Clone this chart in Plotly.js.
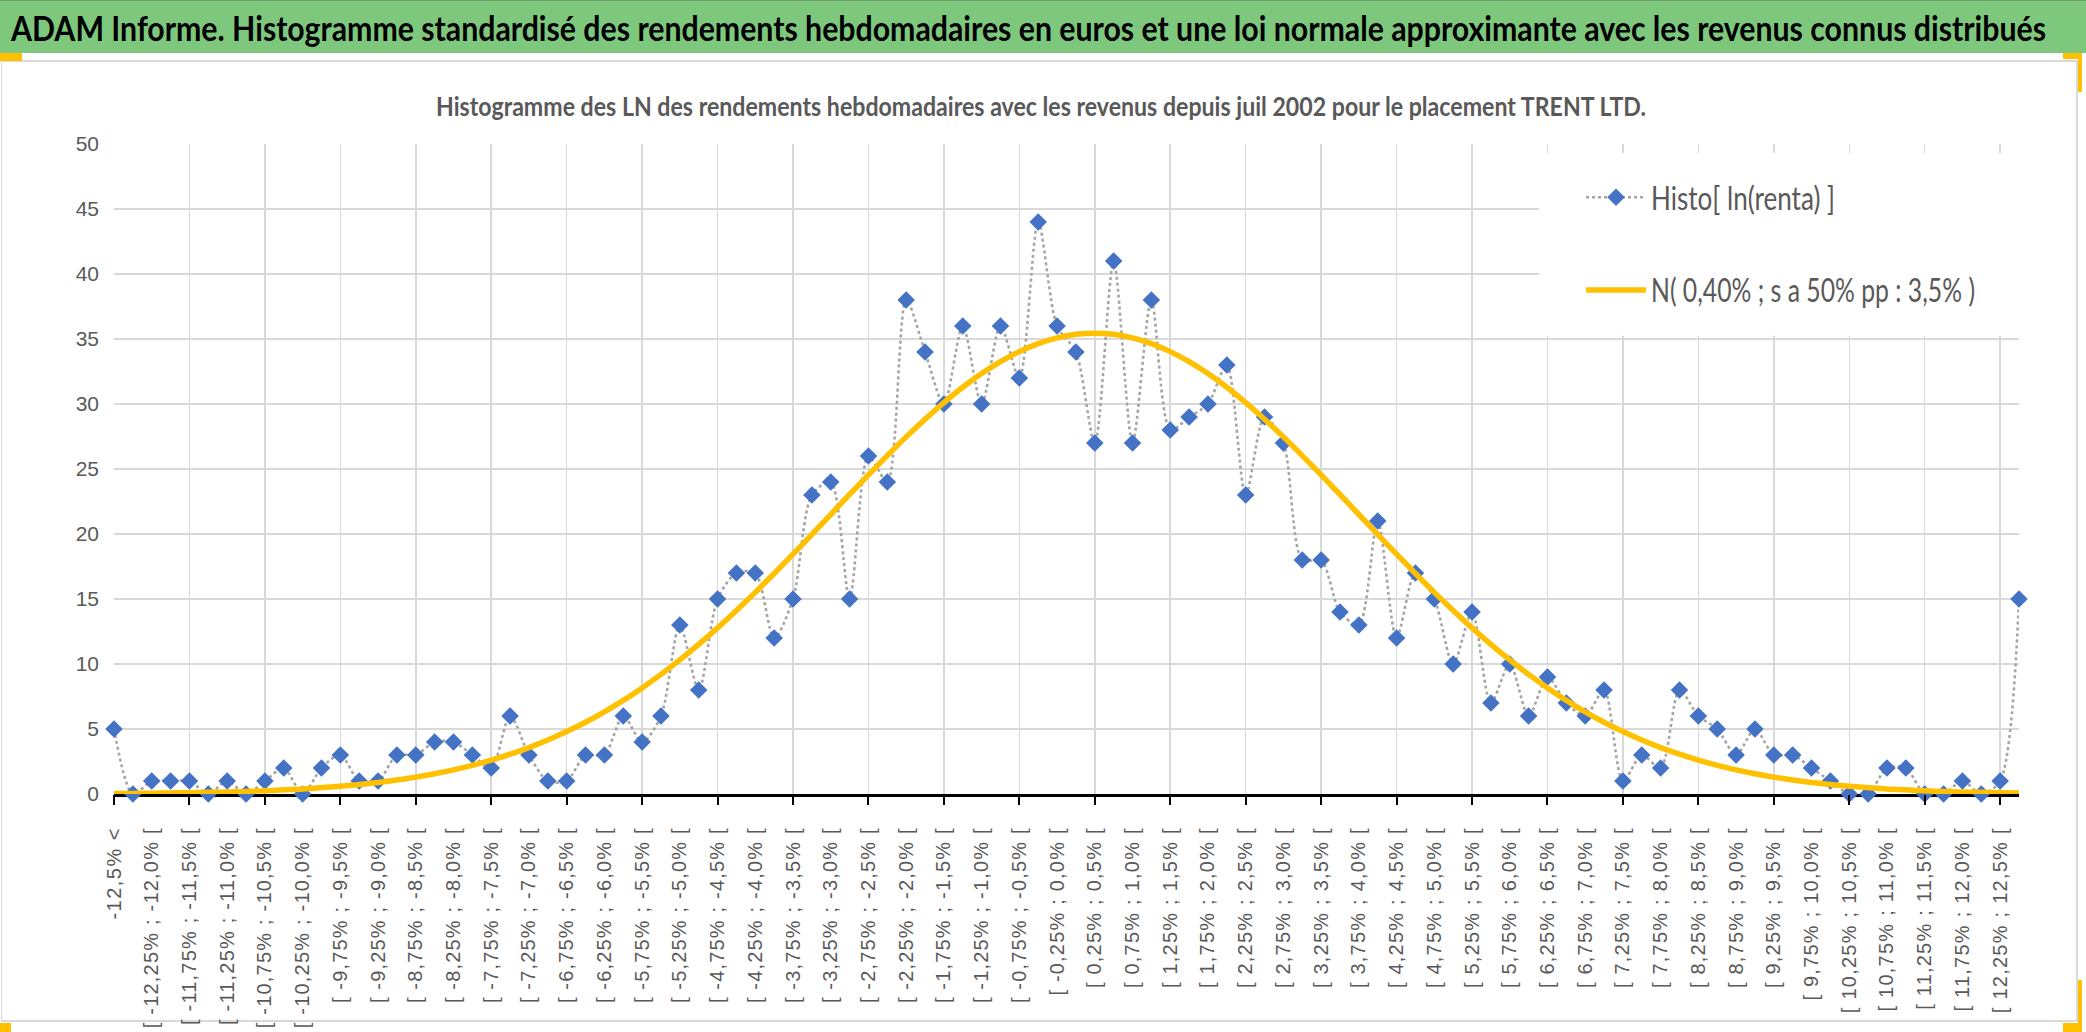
<!DOCTYPE html>
<html>
<head>
<meta charset="utf-8">
<script src="https://cdn.plot.ly/plotly-3.0.1.min.js"></script>
<style>
  html, body { margin: 0; padding: 0; background: #ffffff; width: 2086px; height: 1032px; overflow: hidden; }
  #frame { position: absolute; left: 1px; top: 60px; width: 2077px; height: 962px; border: 2px solid #d9d9d9; border-left-width: 1px; box-sizing: border-box; }
  #banner { position: absolute; left: 0; top: 0; width: 2086px; height: 53px; background: #7ec87e; border-top: 1px solid #6a9f6a; box-sizing: border-box; z-index: 3; overflow: hidden; }
  #bannerText { position: absolute; left: 11px; top: 0; line-height: 52px; white-space: nowrap; transform-origin: 0 50%;
            font-family: Lato, "Liberation Sans", sans-serif; font-weight: bold; font-size: 35px; color: #000; }
  .h { position: absolute; background: #ffc000; z-index: 4; }
  #chart { position: absolute; left: 0; top: 0; width: 2086px; height: 1032px; z-index: 2; }
</style>
</head>
<body>
<div id="frame"></div>
<div id="banner"><span id="bannerText">ADAM Informe. Histogramme standardisé des rendements hebdomadaires en euros et une loi normale approximante avec les revenus connus distribués</span></div>
<div class="h" style="left:0;top:53px;width:22px;height:8px"></div>
<div class="h" style="left:2063px;top:53px;width:19px;height:6px"></div>
<div class="h" style="left:2078px;top:53px;width:4px;height:39px"></div>
<div class="h" style="left:2063px;top:1023px;width:19px;height:9px"></div>
<div class="h" style="left:2078px;top:980px;width:4px;height:52px"></div>
<div class="h" style="left:0;top:1023px;width:11px;height:9px"></div>
<div id="chart"></div>
<script>
// Bin labels (categories)
const binLabels = [
"-12,5% <",
"[ -12,5% ; -12,25% [","[ -12,25% ; -12,0% [","[ -12,0% ; -11,75% [","[ -11,75% ; -11,5% [",
"[ -11,5% ; -11,25% [","[ -11,25% ; -11,0% [","[ -11,0% ; -10,75% [","[ -10,75% ; -10,5% [",
"[ -10,5% ; -10,25% [","[ -10,25% ; -10,0% [","[ -10,0% ; -9,75% [","[ -9,75% ; -9,5% [",
"[ -9,5% ; -9,25% [","[ -9,25% ; -9,0% [","[ -9,0% ; -8,75% [","[ -8,75% ; -8,5% [",
"[ -8,5% ; -8,25% [","[ -8,25% ; -8,0% [","[ -8,0% ; -7,75% [","[ -7,75% ; -7,5% [",
"[ -7,5% ; -7,25% [","[ -7,25% ; -7,0% [","[ -7,0% ; -6,75% [","[ -6,75% ; -6,5% [",
"[ -6,5% ; -6,25% [","[ -6,25% ; -6,0% [","[ -6,0% ; -5,75% [","[ -5,75% ; -5,5% [",
"[ -5,5% ; -5,25% [","[ -5,25% ; -5,0% [","[ -5,0% ; -4,75% [","[ -4,75% ; -4,5% [",
"[ -4,5% ; -4,25% [","[ -4,25% ; -4,0% [","[ -4,0% ; -3,75% [","[ -3,75% ; -3,5% [",
"[ -3,5% ; -3,25% [","[ -3,25% ; -3,0% [","[ -3,0% ; -2,75% [","[ -2,75% ; -2,5% [",
"[ -2,5% ; -2,25% [","[ -2,25% ; -2,0% [","[ -2,0% ; -1,75% [","[ -1,75% ; -1,5% [",
"[ -1,5% ; -1,25% [","[ -1,25% ; -1,0% [","[ -1,0% ; -0,75% [","[ -0,75% ; -0,5% [",
"[ -0,5% ; -0,25% [","[ -0,25% ; 0,0% [","[ 0,0% ; 0,25% [","[ 0,25% ; 0,5% [",
"[ 0,5% ; 0,75% [","[ 0,75% ; 1,0% [","[ 1,0% ; 1,25% [","[ 1,25% ; 1,5% [",
"[ 1,5% ; 1,75% [","[ 1,75% ; 2,0% [","[ 2,0% ; 2,25% [","[ 2,25% ; 2,5% [",
"[ 2,5% ; 2,75% [","[ 2,75% ; 3,0% [","[ 3,0% ; 3,25% [","[ 3,25% ; 3,5% [",
"[ 3,5% ; 3,75% [","[ 3,75% ; 4,0% [","[ 4,0% ; 4,25% [","[ 4,25% ; 4,5% [",
"[ 4,5% ; 4,75% [","[ 4,75% ; 5,0% [","[ 5,0% ; 5,25% [","[ 5,25% ; 5,5% [",
"[ 5,5% ; 5,75% [","[ 5,75% ; 6,0% [","[ 6,0% ; 6,25% [","[ 6,25% ; 6,5% [",
"[ 6,5% ; 6,75% [","[ 6,75% ; 7,0% [","[ 7,0% ; 7,25% [","[ 7,25% ; 7,5% [",
"[ 7,5% ; 7,75% [","[ 7,75% ; 8,0% [","[ 8,0% ; 8,25% [","[ 8,25% ; 8,5% [",
"[ 8,5% ; 8,75% [","[ 8,75% ; 9,0% [","[ 9,0% ; 9,25% [","[ 9,25% ; 9,5% [",
"[ 9,5% ; 9,75% [","[ 9,75% ; 10,0% [","[ 10,0% ; 10,25% [","[ 10,25% ; 10,5% [",
"[ 10,5% ; 10,75% [","[ 10,75% ; 11,0% [","[ 11,0% ; 11,25% [","[ 11,25% ; 11,5% [",
"[ 11,5% ; 11,75% [","[ 11,75% ; 12,0% [","[ 12,0% ; 12,25% [","[ 12,25% ; 12,5% [",
"12,5% >"
];

// Observed weekly counts per bin (Histo[ ln(renta) ])
const histoCounts = [
 5, 0, 1, 1, 1, 0, 1, 0, 1, 2,
 0, 2, 3, 1, 1, 3, 3, 4, 4, 3,
 2, 6, 3, 1, 1, 3, 3, 6, 4, 6,
 13, 8, 15, 17, 17, 12, 15, 23, 24, 15,
 26, 24, 38, 34, 30, 36, 30, 36, 32, 44,
 36, 34, 27, 41, 27, 38, 28, 29, 30, 33,
 23, 29, 27, 18, 18, 14, 13, 21, 12, 17,
 15, 10, 14, 7, 10, 6, 9, 7, 6, 8,
 1, 3, 2, 8, 6, 5, 3, 5, 3, 3,
 2, 1, 0, 0, 2, 2, 0, 0, 1, 0,
 1, 15
];

// Approximating normal curve values read per bin: N( 0,40% ; s 3,5% )
const normalCurve = [
 0.035, 0.045, 0.06, 0.08, 0.10, 0.13, 0.16, 0.20, 0.25, 0.32,
 0.39, 0.49, 0.60, 0.73, 0.89, 1.08, 1.30, 1.56, 1.86, 2.20,
 2.60, 3.06, 3.57, 4.15, 4.80, 5.52, 6.32, 7.20, 8.16, 9.20,
 10.31, 11.51, 12.78, 14.12, 15.51, 16.96, 18.45, 19.97, 21.50, 23.04,
 24.55, 26.03, 27.47, 28.83, 30.11, 31.29, 32.34, 33.26, 34.03, 34.65,
 35.09, 35.36, 35.45, 35.36, 35.09, 34.65, 34.03, 33.26, 32.34, 31.29,
 30.11, 28.83, 27.47, 26.03, 24.55, 23.04, 21.50, 19.97, 18.45, 16.96,
 15.51, 14.12, 12.78, 11.51, 10.31, 9.20, 8.16, 7.20, 6.32, 5.52,
 4.80, 4.15, 3.57, 3.06, 2.60, 2.20, 1.86, 1.56, 1.30, 1.08,
 0.89, 0.73, 0.60, 0.49, 0.39, 0.32, 0.25, 0.20, 0.16, 0.13,
 0.10, 0.08
];

const seriesNames = ["Histo[ ln(renta) ]", "N( 0,40% ; s a 50% pp : 3,5% )"];
const chartTitle = "Histogramme des LN des rendements hebdomadaires avec les revenus depuis juil 2002 pour le placement TRENT LTD.";
const yTicks = [0, 5, 10, 15, 20, 25, 30, 35, 40, 45, 50];

const xIdx = binLabels.map((_, i) => i);
const labelIdx = xIdx.filter(i => i % 2 === 0);
const labelText = labelIdx.map(i => binLabels[i]);

const HUMAN = 'Lato, "Open Sans", "Liberation Sans", sans-serif';
const SANS = '"Liberation Sans", Arial, sans-serif';

const traces = [
  {
    type: 'scatter', mode: 'lines+markers', name: seriesNames[0],
    x: xIdx, y: histoCounts, xaxis: 'x', yaxis: 'y',
    legendgroup: 'a', cliponaxis: false,
    line: { color: '#a5a5a5', width: 2.6, dash: 'dot', shape: 'spline', smoothing: 0.8 },
    marker: { symbol: 'diamond', size: 13.5, color: '#4472c4', line: { width: 0 } },
    hovertemplate: '%{text}: %{y}<extra></extra>', text: binLabels
  },
  {
    type: 'scatter', mode: 'lines', name: seriesNames[1],
    x: xIdx, y: normalCurve, xaxis: 'x2', yaxis: 'y',
    legendgroup: 'b', cliponaxis: false,
    line: { color: '#ffc000', width: 5.5, shape: 'spline', smoothing: 1 },
    hoverinfo: 'skip'
  }
];

const layout = {
  width: 2086, height: 1032,
  margin: { l: 114, r: 66, t: 144, b: 238, pad: 0 },
  paper_bgcolor: 'rgba(0,0,0,0)', plot_bgcolor: 'rgba(0,0,0,0)',
  showlegend: true,
  title: {
    text: chartTitle, x: 1041 / 2086, xref: 'container', xanchor: 'center',
    y: 1 - 107 / 1032, yref: 'container', yanchor: 'middle',
    font: { family: HUMAN, size: 26, color: '#595959', weight: 'bold' }
  },
  xaxis: {
    type: 'linear', range: [0, 101], fixedrange: true,
    tickmode: 'array', tickvals: labelIdx, ticktext: labelText,
    tickangle: -90, ticks: '', ticklabelstandoff: 24,
    tickfont: { family: SANS, size: 20, color: '#595959' },
    showgrid: false, zeroline: false,
    showline: true, linecolor: '#000000', linewidth: 2.5, layer: 'below traces'
  },
  xaxis2: {
    type: 'linear', range: [0, 101], overlaying: 'x', side: 'bottom', fixedrange: true,
    tickmode: 'linear', tick0: 0, dtick: 4,
    ticks: 'outside', ticklen: 10, tickwidth: 2, tickcolor: '#000000',
    showticklabels: false, showgrid: true, gridcolor: '#d9d9d9', gridwidth: 1.5,
    zeroline: false, showline: false
  },
  yaxis: {
    range: [0, 50], tickmode: 'array', tickvals: yTicks, fixedrange: true,
    showgrid: true, gridcolor: '#d9d9d9', gridwidth: 1.5,
    zeroline: false, showline: false, ticks: '', ticklabelstandoff: 14,
    tickfont: { family: SANS, size: 21, color: '#595959' }
  },
  shapes: [
    { type: 'rect', xref: 'x', yref: 'y', x0: 75.55, x1: 101, y0: 35.25, y1: 49.3,
      fillcolor: '#ffffff', line: { width: 0 }, layer: 'above' }
  ],
  legend: {
    x: (1581 - 114) / 1906, xanchor: 'left', y: (794 - 170) / 650, yanchor: 'top',
    bgcolor: 'rgba(0,0,0,0)', borderwidth: 0,
    font: { family: HUMAN, size: 32, color: '#595959' },
    traceorder: 'grouped', tracegroupgap: 48, itemwidth: 60
  },
  hovermode: 'closest'
};

Plotly.newPlot('chart', traces, layout, { displayModeBar: false, staticPlot: true }).then(function () {
  // Match the condensed text widths of the reference
  const bt = document.getElementById('bannerText');
  const bw = bt.getBoundingClientRect().width;
  if (bw > 0) bt.style.transform = 'scaleX(' + (2035 / bw) + ')';

  const tt = document.querySelector('.gtitle');
  if (tt) { tt.setAttribute('textLength', 1210); tt.setAttribute('lengthAdjust', 'spacingAndGlyphs'); }

  const legendWidths = [184, 324];
  document.querySelectorAll('.legendtext').forEach(function (el, i) {
    el.setAttribute('textLength', legendWidths[i]);
    el.setAttribute('lengthAdjust', 'spacingAndGlyphs');
  });

  document.querySelectorAll('.xtick text').forEach(function (el) {
    const w = el.getComputedTextLength();
    if (w > 0) { el.setAttribute('textLength', (w * 1.13).toFixed(1)); el.setAttribute('lengthAdjust', 'spacing'); }
  });
});
</script>
</body>
</html>
